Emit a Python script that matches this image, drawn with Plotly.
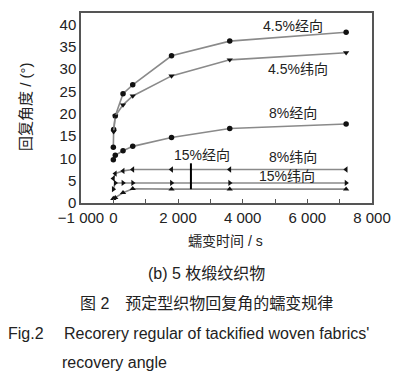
import plotly.graph_objects as go

# creep time (s)
t_warp45 = [0, 10, 60, 300, 600, 1800, 3600, 7200]
warp45 = [12.5, 16.5, 19.5, 24.5, 26.5, 33.0, 36.3, 38.3]
t_weft45 = [10, 60, 300, 600, 1800, 3600, 7200]
weft45 = [16.0, 19.5, 22.0, 24.0, 28.5, 32.1, 33.7]
t_warp8 = [0, 60, 300, 600, 1800, 3600, 7200]
warp8 = [9.7, 10.7, 11.7, 12.7, 14.7, 16.7, 17.7]
t_weft8 = [0, 60, 300, 600, 1800, 3600, 7200]
weft8 = [5.5, 6.6, 7.2, 7.5, 7.5, 7.5, 7.5]
t_weft15 = [0, 60, 300, 600, 1800, 3600, 7200]
weft15 = [3.1, 4.5, 4.5, 4.5, 4.5, 4.5, 4.5]
t_warp15 = [0, 60, 300, 600, 1800, 3600, 7200]
warp15 = [1.0, 1.2, 2.3, 3.2, 3.1, 3.1, 3.1]

series = [
    ("4.5%经向", t_warp45, warp45, "circle"),
    ("4.5%纬向", t_weft45, weft45, "triangle-down"),
    ("8%经向", t_warp8, warp8, "circle"),
    ("8%纬向", t_weft8, weft8, "triangle-left"),
    ("15%纬向", t_weft15, weft15, "triangle-right"),
    ("15%经向", t_warp15, warp15, "triangle-up"),
]

x_tickvals = [-1000, 0, 2000, 4000, 6000, 8000]
x_ticktext = ["−1 000", "0", "2 000", "4 000", "6 000", "8 000"]
y_tickvals = [0, 5, 10, 15, 20, 25, 30, 35, 40]

fig = go.Figure()
for name, tx, ty, sym in series:
    fig.add_trace(go.Scatter(
        x=tx, y=ty, mode="lines+markers", name=name,
        line=dict(color="#8a8a8a", width=1.6),
        marker=dict(symbol=sym, size=5.5, color="#111111"),
        showlegend=False,
    ))

# pointer line for 15%经向 label
fig.add_trace(go.Scatter(x=[2400, 2400], y=[3.1, 8.9], mode="lines",
                         line=dict(color="black", width=2), showlegend=False))

labels = [
    ("4.5%经向", 5560, 39.6),
    ("4.5%纬向", 5720, 30.0),
    ("8%经向", 5560, 20.2),
    ("8%纬向", 5560, 10.4),
    ("15%纬向", 5380, 6.1),
    ("15%经向", 2740, 10.8),
]
annotations = []
for txt, ax, ay in labels:
    annotations.append(dict(x=ax, y=ay, xref="x", yref="y", text=txt, showarrow=False,
                            xanchor="center", yanchor="middle",
                            font=dict(size=14, color="#222", family="Liberation Sans, Noto Sans CJK SC")))

W, H = 413, 377
L, R, T, B = 81, 372, 13, 203
def px(x):
    return (x - L) / (R - L)
def py(y):
    return (B - y) / (B - T)

cap_font = dict(family="Liberation Sans, Noto Sans CJK SC", color="#222")
annotations += [
    dict(x=px(25), y=py(107), xref="paper", yref="paper", text="回复角度 / (°)", textangle=-90,
         xanchor="center", yanchor="middle", showarrow=False, font=dict(size=15, **cap_font)),
    dict(x=px(225), y=py(241), xref="paper", yref="paper", text="蠕变时间 / s",
         xanchor="center", yanchor="middle", showarrow=False, font=dict(size=14, **cap_font)),
    dict(x=px(206), y=py(273), xref="paper", yref="paper", text="(b) 5 枚缎纹织物",
         xanchor="center", yanchor="middle", showarrow=False, font=dict(size=16, **cap_font)),
    dict(x=px(206), y=py(303), xref="paper", yref="paper", text="图 2　预定型织物回复角的蠕变规律",
         xanchor="center", yanchor="middle", showarrow=False, font=dict(size=16, **cap_font)),
    dict(x=px(6), y=py(333), xref="paper", yref="paper", xanchor="left", yanchor="middle",
         text="Fig.2　 Recorery regular of tackified woven fabrics'",
         showarrow=False, font=dict(size=16, **cap_font)),
    dict(x=px(60), y=py(362), xref="paper", yref="paper", xanchor="left", yanchor="middle",
         text="recovery angle",
         showarrow=False, font=dict(size=16, **cap_font)),
]

fig.update_layout(
    width=W, height=H,
    margin=dict(l=L, r=W - R, t=T, b=H - B, autoexpand=False),
    paper_bgcolor="white", plot_bgcolor="white",
    annotations=annotations,
    font=dict(family="Liberation Sans, Arial", color="#222"),
)
fig.update_xaxes(range=[-1000, 8000], tickvals=x_tickvals, ticktext=x_ticktext, automargin=False,
                 showgrid=False, zeroline=False, showline=True, linecolor="#555", linewidth=1.5,
                 mirror=True, ticks="inside", ticklen=4, tickcolor="#555",
                 minor=dict(dtick=1000, tick0=0, ticks="inside", ticklen=4, tickcolor="#555"),
                 tickfont=dict(size=15, color="#222"))
fig.update_yaxes(range=[0, 42.6], tickvals=y_tickvals, automargin=False,
                 showgrid=False, zeroline=False, showline=True, linecolor="#555", linewidth=1.5,
                 mirror=True, ticks="", tickfont=dict(size=15, color="#222"))

fig.write_html("out.html", config={"displayModeBar": False},
               post_script="document.body.style.margin='0';document.body.style.overflow='hidden';")
